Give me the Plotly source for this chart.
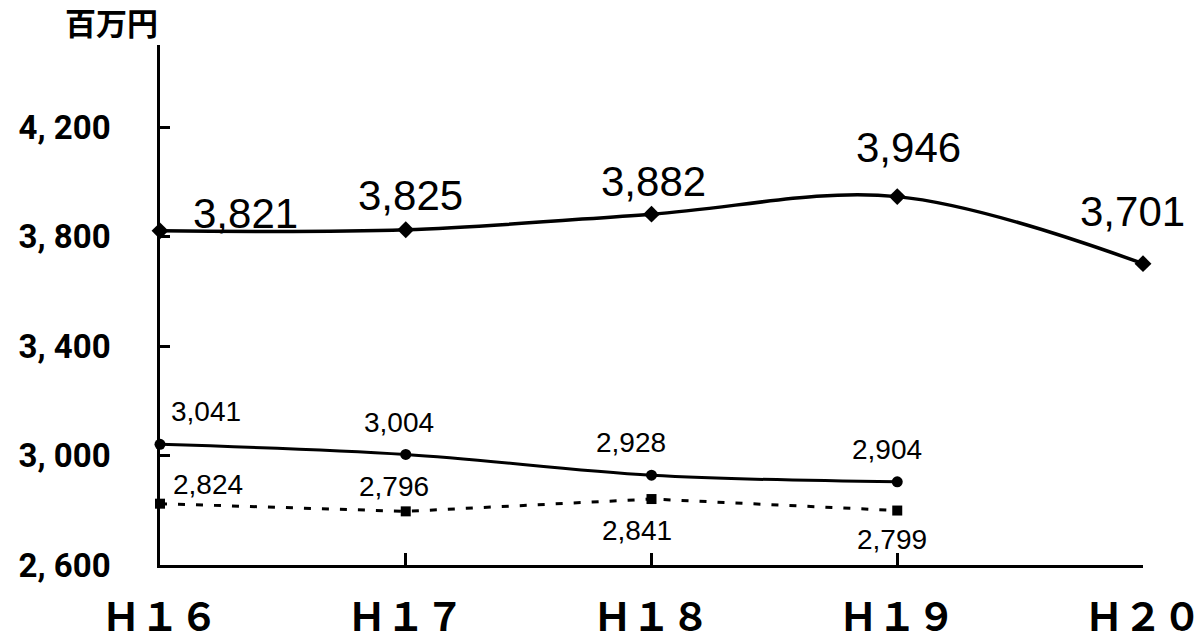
import plotly.graph_objects as go

categories = ["Ｈ１６", "Ｈ１７", "Ｈ１８", "Ｈ１９", "Ｈ２０"]
series_top = [3821, 3825, 3882, 3946, 3701]
series_mid = [3041, 3004, 2928, 2904]
series_low = [2824, 2796, 2841, 2799]
y_tickvals = [2600, 3000, 3400, 3800, 4200]
y_ticktext = ["2, 600", "3, 000", "3, 400", "3, 800", "4, 200"]

xs = list(range(len(categories)))

fig = go.Figure()
fig.add_trace(go.Scatter(x=xs, y=series_top, mode="lines+markers",
                         line=dict(color="black", width=3.5, shape="spline", smoothing=1),
                         marker=dict(symbol="diamond", size=13, color="black"),
                         cliponaxis=False))
fig.add_trace(go.Scatter(x=xs[:len(series_mid)], y=series_mid, mode="lines+markers",
                         line=dict(color="black", width=3, shape="spline", smoothing=1),
                         marker=dict(symbol="circle", size=11, color="black"),
                         cliponaxis=False))
fig.add_trace(go.Scatter(x=xs[:len(series_low)], y=series_low, mode="lines+markers",
                         line=dict(color="black", width=3, dash="7px,11px"),
                         marker=dict(symbol="square", size=10, color="black"),
                         cliponaxis=False))

big_font = dict(family="Liberation Sans, Arial, sans-serif", size=42, color="black")
small_font = dict(family="Liberation Sans, Arial, sans-serif", size=28, color="black")

top_shift = [(85, 17), (5, 34), (2, 33), (11, 49), (-11, 52)]
mid_shift = [(46, 33), (-7, 32), (-21, 33), (-10, 32)]
low_shift = [(48, 19), (-12, 25), (-15, -31), (-5, -29)]

annotations = []
for i, v in enumerate(series_top):
    annotations.append(dict(x=xs[i], y=v, text=f"{v:,}", showarrow=False, font=big_font,
                            xshift=top_shift[i][0], yshift=top_shift[i][1]))
for i, v in enumerate(series_mid):
    annotations.append(dict(x=xs[i], y=v, text=f"{v:,}", showarrow=False, font=small_font,
                            xshift=mid_shift[i][0], yshift=mid_shift[i][1]))
for i, v in enumerate(series_low):
    annotations.append(dict(x=xs[i], y=v, text=f"{v:,}", showarrow=False, font=small_font,
                            xshift=low_shift[i][0], yshift=low_shift[i][1]))
annotations.append(dict(xref="paper", yref="paper", x=0, y=1, xanchor="right", yanchor="bottom",
                        xshift=0, yshift=-1, text="<b>百万円</b>", showarrow=False,
                        font=dict(family="Noto Sans CJK JP", size=31, color="black")))

fig.update_layout(
    width=1204, height=641,
    margin=dict(l=160, r=61, t=45, b=76),
    plot_bgcolor="white", paper_bgcolor="white",
    showlegend=False,
    annotations=annotations,
    xaxis=dict(range=[0, 4], tickvals=xs, ticktext=categories, automargin=False,
               showgrid=False, zeroline=False, showline=True, linecolor="black", linewidth=2.5,
               ticks="inside", ticklen=12, tickwidth=2.5, tickcolor="black",
               ticklabelstandoff=16,
               tickfont=dict(family="Noto Sans CJK JP, sans-serif", size=39, color="black",
                             weight="bold")),
    yaxis=dict(range=[2600, 4500], tickvals=y_tickvals, ticktext=y_ticktext, automargin=False,
               showgrid=False, zeroline=False, showline=True, linecolor="black", linewidth=2.5,
               ticks="inside", ticklen=10, tickwidth=2.5, tickcolor="black",
               ticklabelstandoff=40,
               tickfont=dict(family="Roboto, sans-serif",
                             size=33, color="black", weight="bold")),
)

fig.write_html("out.html", config={"displayModeBar": False})
with open("out.html", "r", encoding="utf-8") as f:
    html = f.read()
html = html.replace("<head>", "<head><style>html,body{margin:0;padding:0;overflow:hidden;}</style>", 1)
with open("out.html", "w", encoding="utf-8") as f:
    f.write(html)
